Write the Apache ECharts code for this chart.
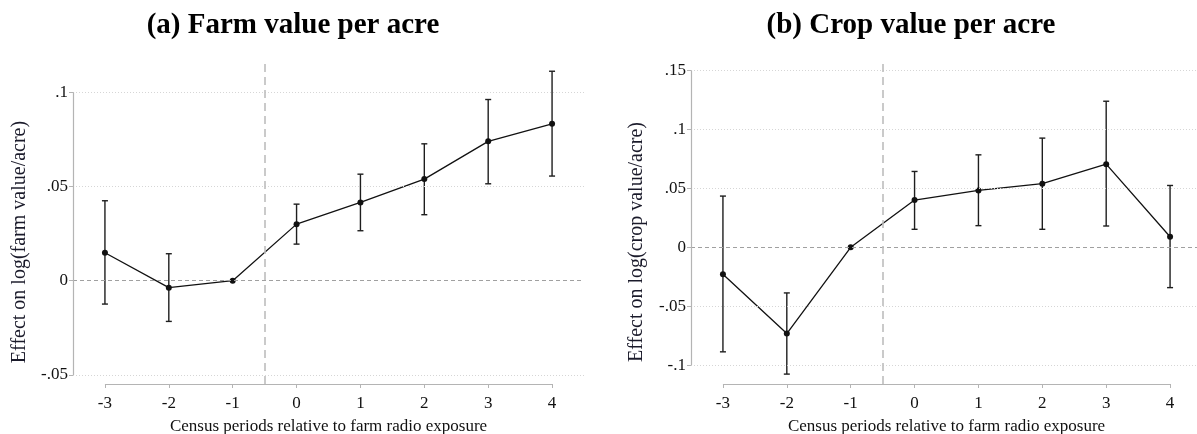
<!DOCTYPE html>
<html>
<head>
<meta charset="utf-8">
<script src="https://cdn.jsdelivr.net/npm/echarts@6/dist/echarts.min.js"></script>
<style>
html,body{margin:0;padding:0;background:#fff;}
#chart{width:1197px;height:434px;}
</style>
</head>
<body>
<div id="chart"></div>
<script>
// ---- data ----
var periods = [-3, -2, -1, 0, 1, 2, 3, 4];
var farmCoef = [0.0148, -0.0037, 0, 0.0300, 0.0415, 0.0539, 0.0739, 0.0832];
var farmLo   = [-0.0124, -0.0216, 0, 0.0194, 0.0265, 0.0350, 0.0514, 0.0555];
var farmHi   = [0.0424, 0.0143, 0, 0.0406, 0.0565, 0.0726, 0.0961, 0.1111];
var cropCoef = [-0.0229, -0.0732, 0, 0.0401, 0.0483, 0.0540, 0.0706, 0.0090];
var cropLo   = [-0.0887, -0.1076, 0, 0.0153, 0.0184, 0.0153, 0.0181, -0.0342];
var cropHi   = [0.0435, -0.0387, 0, 0.0644, 0.0785, 0.0927, 0.1240, 0.0525];
var farmTicks = [-0.05, 0, 0.05, 0.1];
var cropTicks = [-0.1, -0.05, 0, 0.05, 0.1, 0.15];
var titles = ['(a) Farm value per acre', '(b) Crop value per acre'];
var yNames = ['Effect on log(farm value/acre)', 'Effect on log(crop value/acre)'];
var xName = 'Census periods relative to farm radio exposure';
var treatLine = -0.5;

var FONT = 'Liberation Serif';
var AXIS_C = '#b4b4b4';

function fmt(v) {
  if (Math.abs(v) < 1e-9) return '0';
  var s = String(+v.toFixed(3));
  return s.replace(/^(-?)0\./, '$1.');
}

var xMin = -3.5, xMax = 4.5;
var panels = [
  {coef: farmCoef, lo: farmLo, hi: farmHi, ticks: farmTicks, yMin: -0.0548, yMax: 0.1160, left: 73},
  {coef: cropCoef, lo: cropLo, hi: cropHi, ticks: cropTicks, yMin: -0.1160, yMax: 0.1573, left: 691}
];

var grids = [], xAxes = [], yAxes = [], series = [];
panels.forEach(function (p, i) {
  grids.push({left: p.left, top: 62, width: 511, height: 322, containLabel: false, outerBoundsMode: 'none'});
  xAxes.push({
    type: 'value', gridIndex: i, min: xMin, max: xMax,
    axisLine: {show: false, onZero: false},
    axisTick: {show: true, length: 4, customValues: periods, lineStyle: {color: AXIS_C, width: 1}},
    axisLabel: {show: true, customValues: periods, margin: 11, color: '#111',
      fontFamily: FONT, fontSize: 17, formatter: function (v) { return String(v); }},
    splitLine: {show: false},
    name: xName, nameLocation: 'middle', nameGap: 34,
    nameTextStyle: {fontFamily: FONT, fontSize: 17, color: '#111'}
  });
  yAxes.push({
    type: 'value', gridIndex: i, min: p.yMin, max: p.yMax,
    axisLine: {show: false, onZero: false},
    axisTick: {show: true, length: 4, customValues: p.ticks, lineStyle: {color: AXIS_C, width: 1}},
    axisLabel: {show: true, customValues: p.ticks, margin: 5, color: '#111',
      fontFamily: FONT, fontSize: 17, formatter: fmt},
    splitLine: {show: false}
  });

  var hLines = p.ticks.map(function (t) {
    var zero = Math.abs(t) < 1e-9;
    return {yAxis: t, lineStyle: zero ? {color: '#a0a0a0', type: [4, 3], width: 1}
                                       : {color: '#d6d6d6', type: [1, 2], width: 1}};
  });
  var markData = hLines.concat([
    {xAxis: treatLine, lineStyle: {color: '#bdbdbd', type: [8, 5], width: 1.6}},
    [{coord: [periods[0], p.yMin]}, {coord: [periods[periods.length - 1], p.yMin], lineStyle: {color: AXIS_C, type: 'solid', width: 1.2}}],
    [{coord: [xMin, p.ticks[0]]}, {coord: [xMin, p.ticks[p.ticks.length - 1]], lineStyle: {color: AXIS_C, type: 'solid', width: 1.2}}]
  ]);

  // background reference lines (drawn beneath the data)
  series.push({
    type: 'line', xAxisIndex: i, yAxisIndex: i, z: 1, zlevel: 0,
    data: periods.map(function (x, k) { return [x, p.coef[k]]; }),
    symbol: 'none', lineStyle: {opacity: 0}, silent: true, animation: false,
    markLine: {silent: true, symbol: ['none', 'none'], label: {show: false},
      animation: false, data: markData}
  });
  series.push({
    type: 'custom', xAxisIndex: i, yAxisIndex: i, z: 3,
    data: periods.map(function (x, k) { return [x, p.lo[k], p.hi[k]]; }),
    renderItem: function (params, api) {
      var x = api.value(0), lo = api.value(1), hi = api.value(2);
      if (Math.abs(hi - lo) < 1e-9) return null;
      var a = api.coord([x, lo]), b = api.coord([x, hi]);
      var st = {stroke: '#1e1e1e', lineWidth: 1.4};
      var cw = 3;
      return {type: 'group', children: [
        {type: 'line', shape: {x1: a[0], y1: a[1], x2: b[0], y2: b[1]}, style: st},
        {type: 'line', shape: {x1: a[0] - cw, y1: a[1], x2: a[0] + cw, y2: a[1]}, style: st},
        {type: 'line', shape: {x1: b[0] - cw, y1: b[1], x2: b[0] + cw, y2: b[1]}, style: st}
      ]};
    },
    silent: true, animation: false
  });
  series.push({
    type: 'line', xAxisIndex: i, yAxisIndex: i, z: 4,
    data: periods.map(function (x, k) { return [x, p.coef[k]]; }),
    symbol: 'circle', symbolSize: 6,
    lineStyle: {color: '#111', width: 1.3},
    itemStyle: {color: '#111'},
    animation: false, silent: true, clip: false
  });
});

var chart = echarts.init(document.getElementById('chart'), null, {renderer: 'canvas'});
chart.setOption({
  backgroundColor: '#fff',
  animation: false,
  grid: grids, xAxis: xAxes, yAxis: yAxes, series: series,
  graphic: [
    {type: 'text', x: 293, y: 26, style: {text: titles[0], font: 'bold 29px "' + FONT + '"', fill: '#000', textAlign: 'center', textVerticalAlign: 'middle'}},
    {type: 'text', x: 911, y: 26, style: {text: titles[1], font: 'bold 29px "' + FONT + '"', fill: '#000', textAlign: 'center', textVerticalAlign: 'middle'}},
    {type: 'text', x: 20, y: 242, rotation: Math.PI / 2, style: {text: yNames[0], font: '20px "' + FONT + '"', fill: '#1a1a2a', textAlign: 'center', textVerticalAlign: 'middle'}},
    {type: 'text', x: 637, y: 242, rotation: Math.PI / 2, style: {text: yNames[1], font: '20px "' + FONT + '"', fill: '#1a1a2a', textAlign: 'center', textVerticalAlign: 'middle'}}
  ]
});
</script>
</body>
</html>
